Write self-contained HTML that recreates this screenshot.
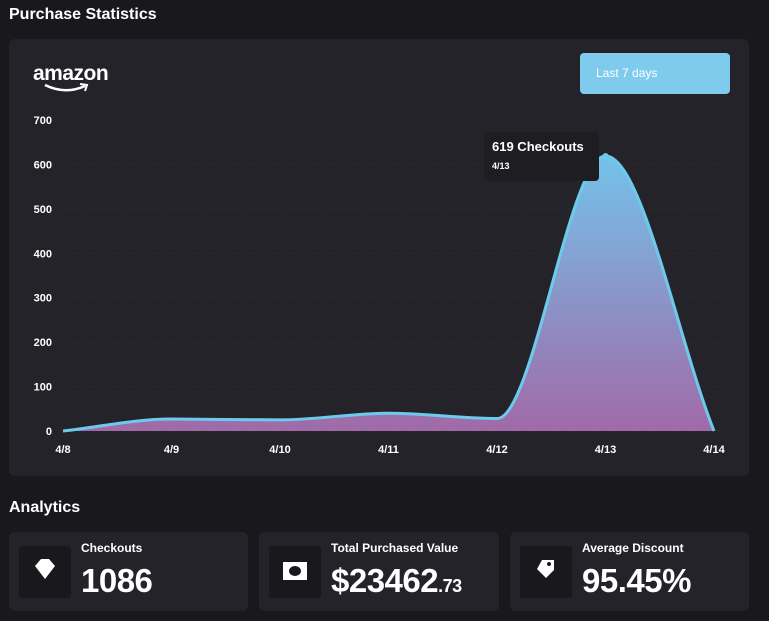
<!DOCTYPE html>
<html><head><meta charset="utf-8"><style>
body{margin:0;width:769px;height:621px;background:#19181d;font-family:"Liberation Sans",sans-serif;color:#fff;overflow:hidden;position:relative}
.h{position:absolute;left:9px;font-size:16px;font-weight:bold}
.card{position:absolute;background:#242329;border-radius:6px}
.stat .ic{position:absolute;left:10px;top:14px;width:52px;height:52px;background:#19181d;border-radius:3px}
.stat .lb{position:absolute;left:72px;top:9px;font-size:12px;font-weight:bold}
.stat .v{position:absolute;left:72px;top:30px;font-size:33px;font-weight:bold;letter-spacing:-0.5px}
</style></head><body>
<div class="h" style="top:6px">Purchase Statistics</div>
<div class="card" style="left:9px;top:39px;width:740px;height:437px"></div>
<div style="position:absolute;left:33px;top:62px;font-size:21px;font-weight:bold;letter-spacing:-0.5px">amazon
<svg style="position:absolute;left:10px;top:21px" width="48" height="12"><path d="M2 2 Q22 12 42 3" stroke="#fff" stroke-width="2.5" fill="none"/><path d="M37 1 L44 2 L42 8" stroke="#fff" stroke-width="2" fill="none"/></svg></div>
<div style="position:absolute;left:580px;top:53px;width:150px;height:41px;background:#7ecbee;border-radius:4px;font-size:12px;line-height:41px;text-indent:16px">Last 7 days</div>
<svg id="ch" width="769" height="480" style="position:absolute;left:0;top:0">
<defs><linearGradient id="g" x1="0" y1="0" x2="0" y2="1"><stop offset="0" stop-color="#74c2ea"/><stop offset="1" stop-color="#a06aa8"/></linearGradient></defs>
</svg>
<div style="position:absolute;left:484px;top:132px;width:115px;height:49px;background:#1e1d22;border-radius:4px">
<div style="position:absolute;left:8px;top:7px;font-size:13px;font-weight:bold">619 Checkouts</div>
<div style="position:absolute;left:8px;top:29px;font-size:9px;font-weight:bold">4/13</div></div>
<div class="h" style="top:499px">Analytics</div>
<div class="card stat" style="left:9px;top:532px;width:239px;height:79px"><div class="ic"><svg width="52" height="52"><path d="M16 20 L22 13 L30 13 L36 20 L26 33 Z" fill="#fff"/></svg></div><div class="lb">Checkouts</div><div class="v">1086</div></div>
<div class="card stat" style="left:259px;top:532px;width:240px;height:79px"><div class="ic"><svg width="52" height="52"><rect x="14" y="16" width="24" height="18" fill="#fff"/><ellipse cx="26" cy="25" rx="6" ry="5" fill="#19181d"/></svg></div><div class="lb">Total Purchased Value</div><div class="v">$23462<span style="font-size:18px">.73</span></div></div>
<div class="card stat" style="left:510px;top:532px;width:239px;height:79px"><div class="ic"><svg width="52" height="52"><path d="M22 14 L34 14 L34 24 L26 32 L17 23 Z" fill="#fff"/><circle cx="29" cy="18" r="2" fill="#19181d"/></svg></div><div class="lb">Average Discount</div><div class="v">95.45%</div></div>
<script>
const categories=["4/8","4/9","4/10","4/11","4/12","4/13","4/14"];
const checkouts=[0,27,25,40,28,619,0];
const yTicks=[0,100,200,300,400,500,600,700];
const svg=document.getElementById('ch'),NS="http://www.w3.org/2000/svg";
const x=i=>63+i*(714-63)/(categories.length-1);
const y=v=>431-v*(431-120)/700;
function mk(t,a){const e=document.createElementNS(NS,t);for(const k in a)e.setAttribute(k,a[k]);svg.appendChild(e);return e;}
yTicks.forEach(t=>{
 const l=mk('line',{x1:63,x2:730,y1:y(t),y2:y(t),stroke:'#2e2d33','stroke-dasharray':'2 3'});
 
 
 const tx=mk('text',{x:52,y:y(t)+4,fill:'#fff','font-size':11,'font-weight':'bold','text-anchor':'end'});tx.textContent=t;
 
 
});
categories.forEach((c,i)=>{
 const tx=mk('text',{x:x(i),y:453,fill:'#fff','font-size':11,'font-weight':'bold','text-anchor':'middle'});tx.textContent=c;
 
 
});
// monotone cubic (Fritsch-Carlson)
const P=checkouts.map((v,i)=>[x(i),y(v)]);
const n=P.length,dx=[],s=[],m=[];
for(let i=0;i<n-1;i++){dx[i]=P[i+1][0]-P[i][0];s[i]=(P[i+1][1]-P[i][1])/dx[i];}
m[0]=s[0];m[n-1]=s[n-2];
for(let i=1;i<n-1;i++){if(s[i-1]*s[i]<=0)m[i]=0;else m[i]=(s[i-1]*dx[i]+s[i]*dx[i-1])/(dx[i]+dx[i-1]);
 const a=m[i]/s[i-1],b=m[i]/s[i];if(a>3)m[i]=3*s[i-1];if(b>3)m[i]=3*s[i];}
let d=`M${P[0][0]},${P[0][1]}`;
for(let i=0;i<n-1;i++){const h=dx[i]/3;
 d+=` C${P[i][0]+h},${P[i][1]+m[i]*h} ${P[i+1][0]-h},${P[i+1][1]-m[i+1]*h} ${P[i+1][0]},${P[i+1][1]}`;}
const area=mk('path',{d:d+` L${P[n-1][0]},431 L${P[0][0]},431 Z`,fill:'url(#g)'});


const line=mk('path',{d:d,fill:'none',stroke:'#6ccbec','stroke-width':3});


const pk=mk('circle',{cx:x(5),cy:y(checkouts[5]),r:3,fill:'#6ccbec'});


</script>
</body></html>
